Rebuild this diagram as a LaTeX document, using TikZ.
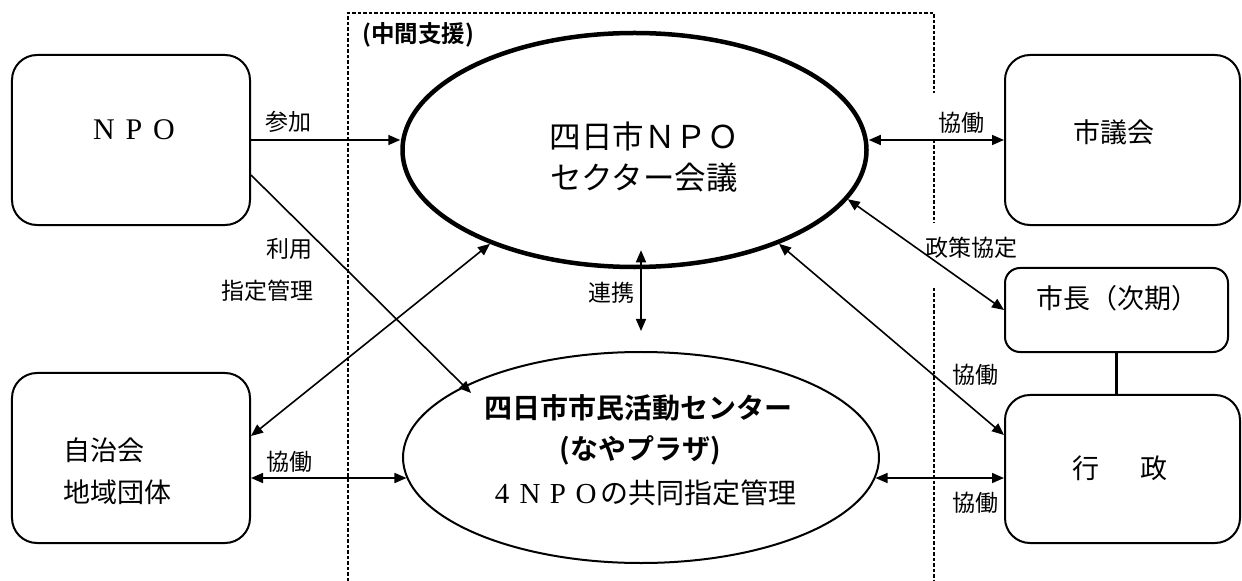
\documentclass[tikz,border=0pt]{standalone}
\usepackage{fontspec}
\setmainfont{Liberation Serif}
\newfontfamily\jp{Noto Sans CJK JP}[BoldFont={Noto Sans CJK JP Bold}]
\usetikzlibrary{shapes.geometric,arrows.meta,calc}
\newcommand\widech[1]{\makebox[1em]{\rmfamily #1}}
\begin{document}
\begin{tikzpicture}[x=1bp,y=-1bp,
  box/.style={draw,line width=2bp,rounded corners=25bp,inner sep=0pt},
  lbl/.style={font=\jp\fontsize{23bp}{26bp}\selectfont,inner sep=0pt},
  boxtext/.style={font=\jp\fontsize{27bp}{30bp}\selectfont,inner sep=0pt},
  arr/.style={line width=1.6bp,-{Triangle[length=12bp,width=10bp]}},
  darr/.style={line width=1.6bp,{Triangle[length=12bp,width=10bp]}-{Triangle[length=12bp,width=10bp]}},
  guide/.style={line width=2.6bp,dash pattern=on 3.5bp off 2bp}
]
\useasboundingbox (0,0) rectangle (1242,581);
\fill[white] (0,0) rectangle (1242,581);

% dashed support area
\draw[guide] (348,581) -- (348,13) -- (934,13) -- (934,93);
\draw[guide] (934,140) -- (934,223);
\draw[guide] (934,288) -- (934,581);
\node[font=\jp\bfseries\fontsize{23.5bp}{26bp}\selectfont,inner sep=0pt] (lchukan) at (418,35) {(中間支援)};

% boxes
\node[box,minimum width=238bp,minimum height=170bp] (npo) at (131,140) {};
\node[box,minimum width=238bp,minimum height=170bp] (jichi) at (131,458) {};
\node[box,minimum width=235bp,minimum height=170bp] (gikai) at (1122.5,140) {};
\node[box,rounded corners=15bp,minimum width=223bp,minimum height=84bp] (shicho) at (1116.5,310) {};
\node[box,minimum width=235bp,minimum height=148bp] (gyosei) at (1122.5,469) {};

% ellipses
\node[ellipse,draw,line width=4.5bp,minimum width=464bp,minimum height=234bp,inner sep=0pt] (sector) at (634.5,150) {};
\node[ellipse,draw,line width=2bp,minimum width=476bp,minimum height=211bp,inner sep=0pt] (center) at (641,457.5) {};

% texts in shapes
\node[font=\rmfamily\fontsize{30bp}{32bp}\selectfont,inner sep=0pt] (npot) at (134,130) {\widech{N}\widech{P}\widech{O}};
\node[boxtext] (gikait) at (1114,132) {市議会};
\node[boxtext] (shichot) at (1117,298) {市長（次期）};
\node[boxtext] (gyoseit) at (1120,468) {行\hspace{42bp}政};
\node[boxtext,anchor=west] (jichit1) at (63,450) {自治会};
\node[boxtext,anchor=west] (jichit2) at (63,492) {地域団体};

\node[font=\jp\fontsize{31.5bp}{41bp}\selectfont,align=center,inner sep=0pt] (sectort) at (644,157.5) {四日市ＮＰＯ\\セクター会議};
\node[font=\jp\bfseries\fontsize{28bp}{30bp}\selectfont,inner sep=0pt] (ct1) at (638,408) {四日市市民活動センター};
\node[font=\jp\bfseries\fontsize{28bp}{30bp}\selectfont,inner sep=0pt] (ct2) at (640,450) {(なやプラザ)};
\node[font=\jp\fontsize{28bp}{30bp}\selectfont,inner sep=0pt] (ct3) at (642,493) {\widech{\fontsize{29bp}{30bp}\selectfont 4}\widech{\fontsize{29bp}{30bp}\selectfont N}\widech{\fontsize{29bp}{30bp}\selectfont P}\widech{\fontsize{29bp}{30bp}\selectfont O}の共同指定管理};

% labels
\node[lbl] (lsanka) at (288,122) {参加};
\node[lbl,anchor=east] (lriyo) at (313,249) {利用};
\node[lbl,anchor=east] (lshitei) at (314,291) {指定管理};
\node[lbl] (lkyo1) at (961,123) {協働};
\node[lbl] (lseisaku) at (971,248) {政策協定};
\node[lbl] (lkyo2) at (975,375) {協働};
\node[lbl] (lkyo3) at (975,503) {協働};
\node[lbl] (lkyo4) at (289,462) {協働};
\node[lbl] (lrenkei) at (611,293) {連携};

% connectors
\draw[arr] (npo.east) -- (npo.east -| sector.west);
\draw[arr,shorten >=-10bp] ($(npo.east)+(0,35)$) -- (center.158);
\draw[darr] (sector.213) -- ($(jichi.east)+(0,-22)$);
\draw[darr] (center.185) -- (center.185 -| jichi.east);
\draw[darr] ($(sector.south -| center.north)+(0,-19)$) -- ($(center.north)+(0,-20)$);
\draw[darr] (gikai.west -| sector.east) -- (gikai.west);
\draw[darr] (sector.347) -- (shicho.west);
\draw[darr] (sector.327) -- ($(gyosei.west)+(0,-34)$);
\draw[darr] (center.355) -- (center.355 -| gyosei.west);
\draw[line width=3bp] (shicho.south) -- (shicho.south |- gyosei.north);
\end{tikzpicture}
\end{document}
